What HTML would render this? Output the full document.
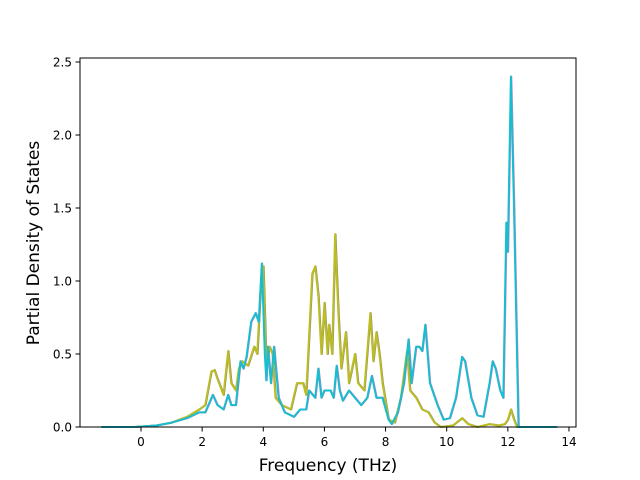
<!DOCTYPE html>
<html><head><meta charset="utf-8"><style>
body{margin:0;background:#fff}
svg{display:block;font-family:"DejaVu Sans","Liberation Sans",sans-serif}
</style></head><body>
<svg id="chart" width="640" height="480" viewBox="0 0 640 480" xmlns="http://www.w3.org/2000/svg">
<rect width="640" height="480" fill="#fff"/>
<g id="series"></g>
<rect x="80" y="58" width="496" height="369" fill="none" stroke="#000" stroke-width="1"/>
<g id="xticks"></g>
<g id="yticks"></g>
<text x="328" y="471" font-size="17" text-anchor="middle">Frequency (THz)</text>
<text transform="translate(39,243) rotate(-90)" font-size="17" text-anchor="middle">Partial Density of States</text>
</svg>
<script>
const xTicks=[0,2,4,6,8,10,12,14];
const yTicks=[0.0,0.5,1.0,1.5,2.0,2.5];
const olFreq=[-1.3,-0.2,0.5,1,1.5,1.9,2.1,2.3,2.4,2.5,2.7,2.85,2.95,3.1,3.2,3.3,3.5,3.7,3.8,3.9,4.0,4.1,4.2,4.3,4.4,4.6,4.9,5.1,5.3,5.4,5.6,5.7,5.8,5.9,6.0,6.1,6.15,6.25,6.35,6.45,6.55,6.7,6.8,7.0,7.1,7.3,7.5,7.6,7.7,7.8,7.9,8.1,8.3,8.5,8.7,8.8,9.0,9.2,9.4,9.6,9.8,10.2,10.5,10.7,11.0,11.4,11.7,11.9,12.0,12.1,12.2,12.3,13.6];
const olDos=[0,0,0.01,0.03,0.07,0.12,0.15,0.38,0.39,0.33,0.22,0.52,0.3,0.25,0.4,0.45,0.42,0.55,0.5,0.9,1.1,0.42,0.55,0.5,0.2,0.15,0.12,0.3,0.3,0.22,1.05,1.1,0.9,0.5,0.85,0.5,0.7,0.5,1.32,0.8,0.4,0.65,0.3,0.5,0.3,0.25,0.78,0.45,0.65,0.5,0.3,0.05,0.03,0.2,0.52,0.25,0.2,0.12,0.1,0.03,0.0,0.01,0.06,0.02,0.0,0.02,0.01,0.02,0.05,0.12,0.05,0,0];
const cyFreq=[-1.3,-0.2,0.5,1,1.5,1.9,2.1,2.35,2.5,2.7,2.85,2.95,3.1,3.25,3.35,3.45,3.6,3.75,3.85,3.95,4.05,4.1,4.15,4.25,4.35,4.5,4.7,5.0,5.2,5.4,5.5,5.7,5.8,5.9,6.0,6.2,6.3,6.4,6.5,6.6,6.8,7.0,7.2,7.4,7.55,7.7,7.9,8.1,8.2,8.4,8.6,8.75,8.85,9.0,9.1,9.2,9.3,9.45,9.7,9.9,10.1,10.3,10.5,10.6,10.8,11.0,11.2,11.4,11.5,11.6,11.75,11.85,11.95,12.0,12.1,12.2,12.35,13.6];
const cyDos=[0,0,0.01,0.03,0.06,0.1,0.1,0.22,0.15,0.12,0.22,0.15,0.15,0.45,0.4,0.48,0.72,0.78,0.72,1.12,0.5,0.32,0.55,0.3,0.55,0.2,0.1,0.07,0.12,0.12,0.25,0.2,0.4,0.2,0.25,0.25,0.2,0.42,0.25,0.18,0.25,0.2,0.15,0.2,0.35,0.2,0.2,0.05,0.02,0.1,0.3,0.6,0.3,0.55,0.55,0.52,0.7,0.3,0.15,0.05,0.06,0.2,0.48,0.45,0.2,0.08,0.07,0.3,0.45,0.4,0.25,0.2,1.4,1.2,2.4,1.5,0,0];
const X=f=>141+f*30.57, Y=v=>427-v*146;
const NS="http://www.w3.org/2000/svg";
const g=document.getElementById('series');
function line(fr,ds,color,w,dx,name){
  const p=document.createElementNS(NS,'polyline');
  p.setAttribute('points',fr.map((f,i)=>(X(f)+dx).toFixed(1)+','+Y(ds[i]).toFixed(1)).join(' '));
  p.setAttribute('fill','none');p.setAttribute('stroke',color);p.setAttribute('stroke-width',w);p.setAttribute('stroke-linejoin','round');
  
  
  g.appendChild(p);
}
line(cyFreq,cyDos,'#e377c2',2,0.4,'pdos-line-pink');
line(olFreq,olDos,'#7f7f7f',2,0.4,'pdos-line-gray');
line(olFreq,olDos,'#bcbd22',2,0,'pdos-line-olive');
line(cyFreq,cyDos,'#17becf',2,0,'pdos-line-cyan');
const xg=document.getElementById('xticks');
xTicks.forEach(t=>{
  const l=document.createElementNS(NS,'line');
  l.setAttribute('x1',X(t));l.setAttribute('x2',X(t));l.setAttribute('y1',427);l.setAttribute('y2',431.5);l.setAttribute('stroke','#000');
  
  
  xg.appendChild(l);
  const s=document.createElementNS(NS,'text');
  s.setAttribute('x',X(t));s.setAttribute('y',446);s.setAttribute('font-size','12');s.setAttribute('text-anchor','middle');
  s.textContent=t;
  
  
  xg.appendChild(s);
});
const yg=document.getElementById('yticks');
yTicks.forEach(t=>{
  const l=document.createElementNS(NS,'line');
  l.setAttribute('x1',75.5);l.setAttribute('x2',80);l.setAttribute('y1',Y(t));l.setAttribute('y2',Y(t));l.setAttribute('stroke','#000');
  
  
  yg.appendChild(l);
  const s=document.createElementNS(NS,'text');
  s.setAttribute('x',72);s.setAttribute('y',Y(t)+4.5);s.setAttribute('font-size','12');s.setAttribute('text-anchor','end');
  s.textContent=t.toFixed(1);
  
  
  yg.appendChild(s);
});
</script>
</body></html>
